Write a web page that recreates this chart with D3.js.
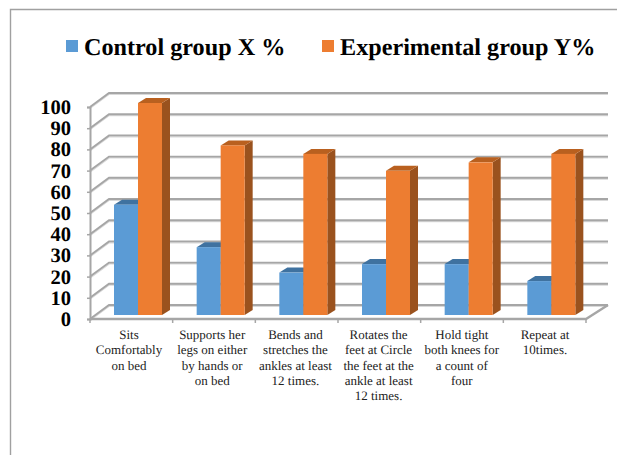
<!DOCTYPE html>
<html>
<head>
<meta charset="utf-8">
<script src="https://cdn.jsdelivr.net/npm/d3@7"></script>
<style>
  html, body { margin: 0; padding: 0; background: #fff; }
  svg { display: block; }
  text { font-family: "Liberation Serif", "Times New Roman", serif; fill: #000; text-rendering: geometricPrecision; }
</style>
</head>
<body>
<svg id="chart" width="617" height="455"></svg>
<script>
// Series and labels
const categories = [
  ["Sits", "Comfortably", "on bed"],
  ["Supports her", "legs on either", "by hands or", "on bed"],
  ["Bends and", "stretches the", "ankles at least", "12 times."],
  ["Rotates the", "feet at Circle", "the feet at the", "ankle at least", "12 times."],
  ["Hold tight", "both knees for", "a count of", "four"],
  ["Repeat at", "10times."]
];
const controlValues = [52, 32, 20, 24, 24, 16];
const experimentalValues = [100, 80, 76, 68, 72, 76];
const seriesNames = ["Control group X %", "Experimental group Y%"];
const yTicks = [0, 10, 20, 30, 40, 50, 60, 70, 80, 90, 100];

// Face colours per series: front, top, side
const palette = [
  { front: "#5b9bd5", top: "#3f72a0", side: "#35618a" },
  { front: "#ed7d31", top: "#b9601f", side: "#9a521e" }
];

const svg = d3.select("#chart");

// Outer frame: only the top and left edges fall inside the canvas
svg.append("path")
  .attr("d", "M617,9.5H10.5V455")
  .attr("fill", "none").attr("stroke", "#a0a0a0").attr("stroke-width", 1.4);

// Legend
const legendX = [66, 322];
const legend = svg.append("g");
seriesNames.forEach((name, i) => {
  legend.append("rect")
    .attr("x", legendX[i]).attr("y", 40).attr("width", 12).attr("height", 12)
    .attr("fill", palette[i].front);
  legend.append("text")
    .attr("x", legendX[i] + 18).attr("y", 55)
    .attr("font-size", 24.2).attr("font-weight", "bold")
    .text(name);
});

// Plot geometry: front plane of the 3-D box and the wall depth
const wallDx = 19, wallDy = -14;
const barDx = 8, barDy = -5, floorGap = 4;
const x = d3.scaleBand().domain(d3.range(categories.length)).range([90, 586]);
const y = d3.scaleLinear().domain([0, 100]).range([319, 107]);
const inner = d3.scaleBand().domain([0, 1]).range([24, 72]);
const labelX = d3.scalePoint().domain(d3.range(categories.length)).range([129, 545]);

// Back wall gridlines and their slanted returns along the side wall
const grid = svg.append("g").attr("fill", "none");
const wallPath = v => `M${x.range()[0]},${y(v)}L${x.range()[0] + wallDx},${y(v) + wallDy}H${x.range()[1] + wallDx + 3}`;
grid.selectAll("path.shade").data(yTicks).join("path")
  .attr("class", "shade")
  .attr("d", v => wallPath(v)).attr("transform", "translate(0,1)")
  .attr("stroke", "#d9d9d9").attr("stroke-width", 2);
grid.selectAll("path.line").data(yTicks).join("path")
  .attr("class", "line")
  .attr("d", v => wallPath(v))
  .attr("stroke", "#a6a6a6").attr("stroke-width", 1.9);

// Floor outline on the right and front edge
const floorRight = x.range()[1];
grid.append("path")
  .attr("d", `M${x.range()[0]},${y(0)}H${floorRight}L${floorRight + wallDx + 3},${y(0) + wallDy}`)
  .attr("stroke", "#a6a6a6").attr("stroke-width", 2.4);

// Value axis
const yAxis = d3.axisLeft(y).tickValues(yTicks).tickSize(3).tickPadding(16);
const yG = svg.append("g").attr("transform", `translate(${x.range()[0]},0)`).call(yAxis);
yG.select(".domain").attr("stroke", "#a6a6a6").attr("stroke-width", 2);
yG.selectAll(".tick line").attr("stroke", "#a6a6a6").attr("stroke-width", 1.5);
yG.selectAll(".tick text")
  .attr("font-family", "Liberation Serif")
  .attr("font-size", 20.5).attr("font-weight", "bold").attr("fill", "#000");

// Category ticks sit on the band edges
const edges = categories.map((_, i) => x(i)).concat(x.range()[1]);
svg.append("g").selectAll("line").data(edges).join("line")
  .attr("x1", d => d).attr("x2", d => d)
  .attr("y1", y(0)).attr("y2", y(0) + 4)
  .attr("stroke", "#a6a6a6").attr("stroke-width", 1.5);

// Extruded bars, control first so the experimental bar overlaps its side
const barWidth = inner.bandwidth();
[controlValues, experimentalValues].forEach((values, s) => {
  const g = svg.append("g");
  const colours = palette[s];
  const left = i => x(i) + inner(s);
  const top = v => y(v) - floorGap;
  const base = y(0) - floorGap;
  g.selectAll("path.side").data(values).join("path")
    .attr("fill", colours.side)
    .attr("d", (v, i) => `M${left(i) + barWidth},${top(v)}l${barDx},${barDy}V${base + barDy}l${-barDx},${-barDy}Z`);
  g.selectAll("path.top").data(values).join("path")
    .attr("fill", colours.top)
    .attr("d", (v, i) => `M${left(i)},${top(v)}l${barDx},${barDy}h${barWidth}l${-barDx},${-barDy}Z`);
  g.selectAll("rect").data(values).join("rect")
    .attr("x", (v, i) => left(i)).attr("y", v => top(v))
    .attr("width", barWidth).attr("height", v => base - top(v))
    .attr("fill", colours.front);
});

// Wrapped category labels
const labels = svg.append("g").attr("text-anchor", "middle").attr("font-size", 13);
categories.forEach((lines, i) => {
  const t = labels.append("text");
  lines.forEach((line, k) => {
    t.append("tspan")
      .attr("x", labelX(i))
      .attr("y", 339 + k * 15.3)
      .attr("fill", "#222")
      .text(line);
  });
});
</script>
</body>
</html>
